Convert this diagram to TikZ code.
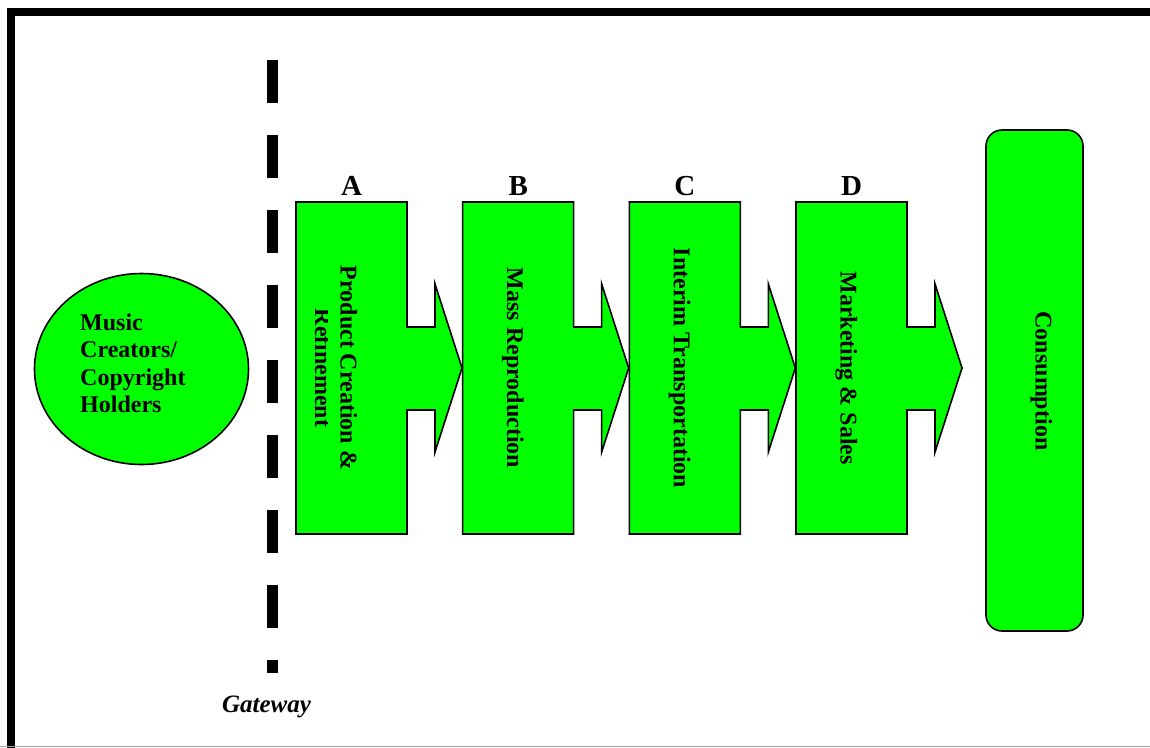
\documentclass[tikz,border=0pt]{standalone}
\usepackage{fontspec}
\setmainfont{Liberation Serif}
\usetikzlibrary{shapes.geometric}
\definecolor{stagegreen}{RGB}{0,255,0}
\begin{document}
\begin{tikzpicture}[x=1pt,y=-1pt,
  stagebox/.style={fill=stagegreen, draw=black, line width=1.6pt, line join=miter},
  vlabel/.style={font=\fontsize{24}{27.5}\selectfont\bfseries, rotate=-90, anchor=base, inner sep=0pt},
  letterlabel/.style={font=\fontsize{29}{32}\selectfont\bfseries, anchor=base, inner sep=0pt},
]
\useasboundingbox (0,0) rectangle (1150,747);
\clip (0,0) rectangle (1150,747);

% outer frame
\draw[line width=8pt] (11,800) -- (11,11.5) -- (1200,11.5);
\draw[black!35, line width=1pt] (0,746.5) -- (1150,746.5);

% source
\node[ellipse, draw=black, fill=stagegreen, line width=1.6pt,
      minimum width=214pt, minimum height=191pt, inner sep=0pt] (src) at (141.5,369) {};
\node[font=\fontsize{24}{27.5}\selectfont\bfseries, align=left, anchor=west, inner sep=0pt]
  (srctext) at (80,363.5) {Music\\Creators/\\Copyright\\Holders};

% gateway
\coordinate (gtop) at (272.5,60);
\coordinate (gbot) at (272.5,673);
\draw[line width=11pt, dash pattern=on 42.5pt off 32.5pt] (gtop) -- (gbot);
\node[font=\fontsize{25}{28}\selectfont\bfseries\itshape, anchor=base, inner sep=0pt]
  (gate) at (266.5,712) {Gateway};

% value-chain stages
\foreach \i/\L in {0/A,1/B,2/C,3/D}{
  \pgfmathsetmacro{\dx}{166.67*\i}
  \draw[stagebox]
    (296+\dx,202) -- (407+\dx,202) -- (407+\dx,327) -- (435+\dx,327)
    -- (435+\dx,284) -- (462+\dx,368) -- (435+\dx,452) -- (435+\dx,410)
    -- (407+\dx,410) -- (407+\dx,534) -- (296+\dx,534) -- cycle;
  \node[letterlabel] (lab\L) at (351.5+\dx,195) {\L};
}

\node[vlabel] (stA) at (340.5,368) {Product Creation \&};
\begin{scope}
  \clip (300,220) rectangle (327.5,520);
  \node[vlabel] (stA2) at (315,368) {Refinement};
\end{scope}
\node[vlabel] (stB) at (507.2,368) {Mass Reproduction};
\node[vlabel] (stC) at (673.8,368) {Interim Transportation};
\node[vlabel] (stD) at (840.5,368) {Marketing \& Sales};

% end point
\node[draw=black, fill=stagegreen, line width=1.6pt, rounded corners=16pt,
      minimum width=97pt, minimum height=501pt, inner sep=0pt] (cons) at (1034.5,380.5) {};
\node[vlabel] (constext) at (1035.5,381) {Consumption};
\end{tikzpicture}
\end{document}
